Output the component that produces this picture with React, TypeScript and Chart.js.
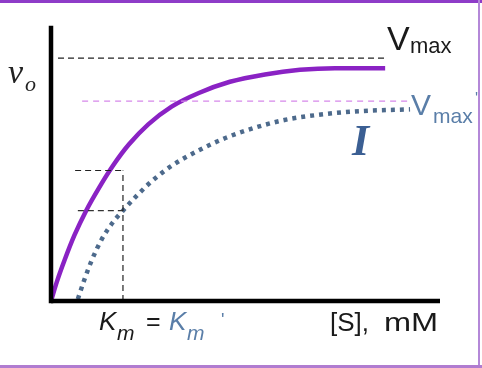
import React, { useEffect, useRef } from "react";
import { Chart, registerables } from "chart.js";
Chart.register(...registerables);

// Michaelis–Menten sketch: substrate [S] (arbitrary units) vs initial velocity v0 (fraction of axis)
const S_NORMAL = [0, 0.15, 0.35, 0.6, 0.9, 1.25, 1.6, 2.0, 2.5, 3.1, 3.8, 4.6, 5.5, 6.4, 7.3, 8.59];
const V_NORMAL = [0, 0.07, 0.15, 0.24, 0.33, 0.418, 0.497, 0.573, 0.647, 0.712, 0.762, 0.803, 0.83, 0.847, 0.853, 0.853];
const S_INHIB = [0.69, 0.85, 1.05, 1.3, 1.6, 1.85, 2.2, 2.6, 3.1, 3.8, 4.5, 5.2, 6.0, 7.0, 8.0, 9.23];
const V_INHIB = [0.007, 0.075, 0.15, 0.225, 0.29, 0.331, 0.385, 0.44, 0.495, 0.552, 0.598, 0.633, 0.663, 0.684, 0.696, 0.702];

const VMAX = 0.89;
const VMAX_LINE_X = [0.18, 8.59];
const VMAX_PRIME = 0.732;
const VMAX_PRIME_LINE_X = [0.8, 9.18];
const KM = 1.85;
const HALF_VMAX = 0.478;
const HALF_VMAX_PRIME = 0.331;
const HALF_LINE_START = [0.62, 0.69];
const X_RANGE = [0, 10];
const Y_RANGE = [0, 1];

const pts = (xs: number[], ys: number[]) => xs.map((x, i) => ({ x, y: ys[i] }));

const decorPlugin = {
  id: "decor",
  beforeDraw(chart: any) {
    const ctx = chart.ctx;
    ctx.save();
    ctx.fillStyle = "#ffffff";
    ctx.fillRect(0, 0, chart.width, chart.height);
    ctx.restore();
  },
  afterDraw(chart: any) {
    const ctx = chart.ctx;
    ctx.save();
    // frame
    ctx.fillStyle = "#8e3cc8";
    ctx.fillRect(0, 0, chart.width, 3);
    ctx.fillStyle = "#b488d8";
    ctx.fillRect(478, 0, 2, chart.height);
    ctx.fillStyle = "#b07cd0";
    ctx.fillRect(0, 365, chart.width, 3);

    ctx.textBaseline = "alphabetic";
    ctx.textAlign = "left";
    // v_o
    ctx.fillStyle = "#222";
    ctx.font = "italic 34px 'Liberation Serif', serif";
    ctx.fillText("v", 8, 83);
    ctx.font = "italic 22px 'Liberation Serif', serif";
    ctx.fillText("o", 25, 91);

    // Vmax
    ctx.fillStyle = "#1a1a1a";
    ctx.font = "34px 'Liberation Sans', Arial, sans-serif";
    ctx.fillText("V", 387, 50);
    ctx.font = "22px 'Liberation Sans', Arial, sans-serif";
    ctx.fillText("max", 410, 53);

    // Vmax'
    ctx.fillStyle = "#5a7ea8";
    ctx.font = "30px 'Liberation Sans', Arial, sans-serif";
    ctx.fillText("V", 411, 115);
    ctx.font = "21px 'Liberation Sans', Arial, sans-serif";
    ctx.fillText("max", 433, 123);
    ctx.font = "16px 'Liberation Sans', Arial, sans-serif";
    ctx.fillText("'", 475, 104);

    // I (inhibitor)
    ctx.fillStyle = "#3b5f93";
    ctx.font = "italic bold 44px 'Liberation Serif', serif";
    ctx.fillText("I", 352, 155);

    // Km = Km'
    ctx.fillStyle = "#1a1a1a";
    ctx.font = "italic 26px 'Liberation Sans', Arial, sans-serif";
    ctx.fillText("K", 99, 330);
    ctx.font = "italic 21px 'Liberation Sans', Arial, sans-serif";
    ctx.fillText("m", 117, 340);
    ctx.font = "25px 'Liberation Sans', Arial, sans-serif";
    ctx.fillText("=", 146, 330);
    ctx.fillStyle = "#5a7ea8";
    ctx.font = "italic 26px 'Liberation Sans', Arial, sans-serif";
    ctx.fillText("K", 169, 330);
    ctx.font = "italic 21px 'Liberation Sans', Arial, sans-serif";
    ctx.fillText("m", 187, 340);
    ctx.font = "18px 'Liberation Sans', Arial, sans-serif";
    ctx.fillText("'", 221, 326);

    // [S], mM
    ctx.fillStyle = "#1a1a1a";
    ctx.font = "26px 'Liberation Sans', Arial, sans-serif";
    ctx.fillText("[S],", 330, 331);
    ctx.save();
    ctx.translate(384, 331);
    ctx.scale(1.25, 1);
    ctx.fillText("mM", 0, 0);
    ctx.restore();

    ctx.restore();
  },
};

export default function App() {
  const ref = useRef<HTMLCanvasElement | null>(null);
  useEffect(() => {
    if (!ref.current) return;
    const thin = { pointRadius: 0, fill: false, clip: false as any, tension: 0 };
    const chart = new Chart(ref.current, {
      type: "line",
      data: {
        datasets: [
          // axes
          { data: pts([X_RANGE[0], X_RANGE[0]], [Y_RANGE[1], Y_RANGE[0]]), borderColor: "#000", borderWidth: 4.5, borderCapStyle: "square", ...thin },
          { data: pts([X_RANGE[0], X_RANGE[1]], [Y_RANGE[0], Y_RANGE[0]]), borderColor: "#000", borderWidth: 4.5, borderCapStyle: "butt", ...thin },
          // Vmax reference
          { data: pts(VMAX_LINE_X, [VMAX, VMAX]), borderColor: "#222", borderWidth: 1.2, borderDash: [6, 4], ...thin },
          // Vmax' reference
          { data: pts(VMAX_PRIME_LINE_X, [VMAX_PRIME, VMAX_PRIME]), borderColor: "#d688ea", borderWidth: 1.2, borderDash: [6, 5], ...thin },
          // Km vertical
          { data: pts([KM, KM], [Y_RANGE[0], HALF_VMAX]), borderColor: "#222", borderWidth: 1.2, borderDash: [6, 4], ...thin },
          // half Vmax
          { data: pts([HALF_LINE_START[0], KM], [HALF_VMAX, HALF_VMAX]), borderColor: "#222", borderWidth: 1.2, borderDash: [6, 4], ...thin },
          { data: pts([HALF_LINE_START[1], KM], [HALF_VMAX_PRIME, HALF_VMAX_PRIME]), borderColor: "#333", borderWidth: 1.2, borderDash: [6, 4], ...thin },
          // inhibited curve
          {
            data: pts(S_INHIB, V_INHIB),
            borderColor: "#4d6a8c",
            borderWidth: 4.5,
            borderDash: [4, 5],
            borderCapStyle: "butt",
            cubicInterpolationMode: "monotone",
            pointRadius: 0,
            fill: false,
            clip: false as any,
          },
          // uninhibited curve
          {
            data: pts(S_NORMAL, V_NORMAL),
            borderColor: "#8a22c4",
            borderWidth: 4.5,
            borderCapStyle: "butt",
            cubicInterpolationMode: "monotone",
            pointRadius: 0,
            fill: false,
            clip: false as any,
          },
        ] as any,
      },
      options: {
        animation: false,
        responsive: false,
        devicePixelRatio: 1,
        layout: { padding: { left: 51, right: 42, top: 28, bottom: 67 } },
        plugins: { legend: { display: false }, tooltip: { enabled: false } },
        scales: {
          x: { type: "linear", min: X_RANGE[0], max: X_RANGE[1], display: false },
          y: { type: "linear", min: Y_RANGE[0], max: Y_RANGE[1], display: false },
        },
      },
      plugins: [decorPlugin],
    });
    return () => chart.destroy();
  }, []);
  return (
    <div style={{ position: "fixed", left: 0, top: 0, width: 482, height: 368, background: "#fff" }}>
      <canvas ref={ref} width={482} height={368} style={{ display: "block", width: 482, height: 368 }} />
    </div>
  );
}
